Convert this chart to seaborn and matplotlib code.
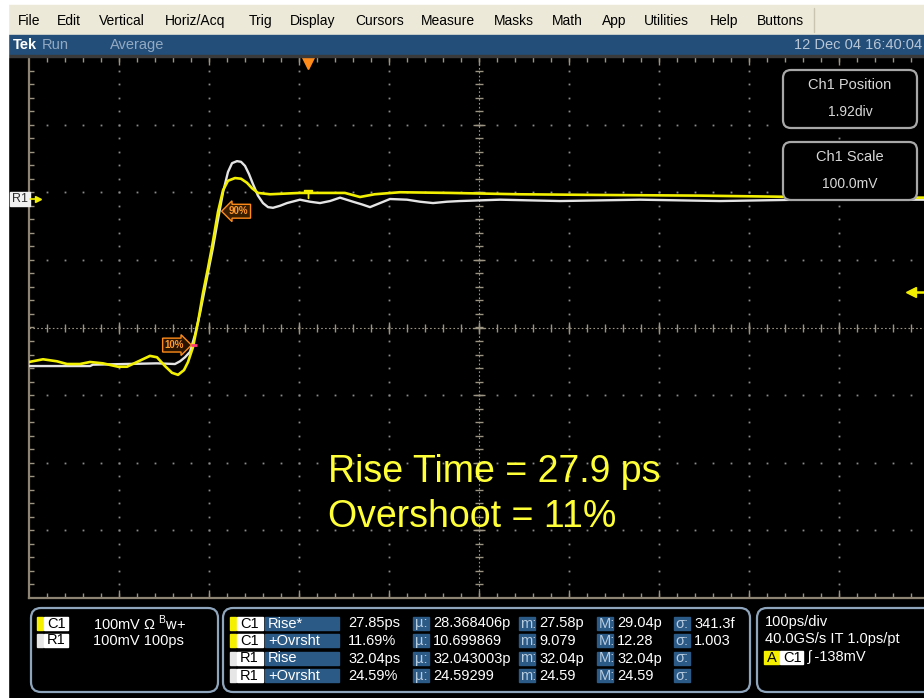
import numpy as np
import pandas as pd
import matplotlib
matplotlib.use("Agg")
import matplotlib.pyplot as plt
import seaborn as sns
from matplotlib.patches import Rectangle, FancyBboxPatch

# --- waveforms: time in ps, level in divisions from centre ---
c1_time = [0, 15.6, 31.1, 42.2, 56.7, 67.8, 82.2, 98.9, 108.9, 120, 134.4, 142.2, 151.1,
           158.9, 165.6, 172.2, 176.7, 182.2, 187.8, 193.3, 198.9, 203.3, 210, 215.6, 221.1,
           228.9, 235.6, 242.2, 247.8, 254.4, 267.8, 301, 334, 351, 367.8, 384, 412, 468,
           545, 634, 745.6, 856.7, 1000]
c1_level = [-0.51, -0.47, -0.50, -0.54, -0.54, -0.51, -0.53, -0.58, -0.58, -0.51, -0.42, -0.44,
            -0.57, -0.67, -0.70, -0.63, -0.51, -0.29, 0.08, 0.51, 0.88, 1.19, 1.71, 2.03, 2.17,
            2.21, 2.20, 2.14, 2.06, 1.99, 1.97, 1.99, 1.99, 1.99, 1.93, 1.97, 2.00, 1.99, 1.97,
            1.96, 1.95, 1.93, 1.92]

r1_time = [0, 67.8, 71, 142.2, 162.2, 167.8, 173.3, 178.9, 184.4, 190, 198.9, 204.4, 208.9,
           215.6, 221.1, 225.6, 231.1, 235.6, 240, 244.4, 248.9, 254.4, 260, 265.6, 271.1,
           278.9, 286.7, 301.1, 312.2, 323.3, 334.4, 345.6, 360, 370, 378.9, 390, 401.1, 420,
           434.4, 448.9, 464.4, 478.9, 523.3, 590, 678.9, 767.8, 856.7, 1000]
r1_level = [-0.57, -0.57, -0.55, -0.53, -0.54, -0.50, -0.44, -0.36, -0.11, 0.21, 0.81, 1.18,
            1.52, 2.00, 2.30, 2.43, 2.46, 2.45, 2.39, 2.27, 2.12, 1.95, 1.84, 1.78, 1.77, 1.80,
            1.84, 1.89, 1.86, 1.84, 1.87, 1.92, 1.86, 1.82, 1.78, 1.84, 1.90, 1.89, 1.86, 1.84,
            1.86, 1.87, 1.89, 1.87, 1.89, 1.87, 1.89, 1.89]

rise_10 = (183, -0.26)       # 10% crossing of C1
rise_90 = (210, 1.74)        # 90% crossing of C1
trigger_time = 310           # ps
trigger_level = 0.52         # div
r1_ref_level = 1.89          # div

# --- screen texts ---
menu_items = ["File", "Edit", "Vertical", "Horiz/Acq", "Trig", "Display", "Cursors",
              "Measure", "Masks", "Math", "App", "Utilities", "Help", "Buttons"]
status_date = "12 Dec 04 16:40:04"
result_lines = ["Rise Time = 27.9 ps", "Overshoot = 11%"]

ch_source = ["C1", "R1"]
ch_setting = ["100mV \u03a9 $^{\\mathregular{B}}$w+", "100mV 100ps"]

meas_src = ["C1", "C1", "R1", "R1"]
meas_name = ["Rise*", "+Ovrsht", "Rise", "+Ovrsht"]
meas_value = ["27.85ps", "11.69%", "32.04ps", "24.59%"]
meas_mean = ["28.368406p", "10.699869", "32.043003p", "24.59299"]
meas_min = ["27.58p", "9.079", "32.04p", "24.59"]
meas_max = ["29.04p", "12.28", "32.04p", "24.59"]
meas_std = ["341.3f", "1.003", "", ""]

horiz_lines = ["100ps/div", "40.0GS/s IT 1.0ps/pt"]
trig_text = "\u0283 -138mV"

# --- colours ---
YEL = "#F2F000"
WHT = "#E4E4E4"
EDGE = "#8E8474"
TICK = "#9C9482"
DOT = "#8A8A8A"
ORANGE = "#FF8C1A"
BLUE = "#2B5A86"
BORDER = "#8FA5BC"
SRC_COL = {"C1": "#F5F000", "R1": "#E6E6E6"}

sns.set_theme(style="white")
plt.rcParams['font.family'] = ['Liberation Sans', 'DejaVu Sans']

W, H = 924, 698
fig = plt.figure(figsize=(W / 100, H / 100), dpi=100, facecolor='black')

# graticule: 10 x 8 div, 90 px x 67.6 px per div, right part cut by the screen edge
ax = fig.add_axes([29 / W, (H - 598) / H, 900 / W, 541 / H])
ax.set_facecolor('black')

r1 = pd.DataFrame({"time": r1_time, "level": r1_level})
c1 = pd.DataFrame({"time": c1_time, "level": c1_level})
sns.lineplot(data=r1, x="time", y="level", ax=ax, color=WHT, lw=1.7, errorbar=None, zorder=4)
sns.lineplot(data=c1, x="time", y="level", ax=ax, color=YEL, lw=1.9, errorbar=None, zorder=5)

ax.set_xlim(0, 1000)
ax.set_ylim(-4, 4)
ax.set_xticks([])
ax.set_yticks([])
ax.set_xlabel("")
ax.set_ylabel("")
for s in ["top", "right"]:
    ax.spines[s].set_visible(False)
for s in ["left", "bottom"]:
    ax.spines[s].set_color(EDGE)
    ax.spines[s].set_linewidth(1.6)

minor_t = np.arange(20, 1000, 20)
minor_v = np.arange(-3.8, 3.9, 0.2)
major_t = np.arange(100, 1000, 100)
major_v = np.arange(-3, 4, 1)

# dotted grid
for t in major_t:
    if t == 500:
        continue
    ax.plot(np.full(len(minor_v), t), minor_v, ls="none", marker="s", ms=1.3, mew=0,
            color=DOT, zorder=1)
for v in major_v:
    if v == 0:
        continue
    ax.plot(minor_t, np.full(len(minor_t), v), ls="none", marker="s", ms=1.3, mew=0,
            color=DOT, zorder=1)

# centre cross with ticks
ax.axhline(0, color=TICK, lw=0.8, ls=(0, (1.5, 2)), zorder=1)
ax.axvline(500, color=TICK, lw=0.8, ls=(0, (1.5, 2)), zorder=1)
ax.plot(minor_t, np.zeros(len(minor_t)), ls="none", marker="|", ms=6, mew=1.0, color=TICK, zorder=1)
ax.plot(major_t, np.zeros(len(major_t)), ls="none", marker="|", ms=9, mew=1.0, color=TICK, zorder=1)
ax.plot(np.full(len(minor_v), 500), minor_v, ls="none", marker="_", ms=6, mew=1.0, color=TICK, zorder=1)
ax.plot(np.full(len(major_v), 500), major_v, ls="none", marker="_", ms=9, mew=1.0, color=TICK, zorder=1)

# edge ticks
ax.plot(np.zeros(len(minor_v)), minor_v, ls="none", marker=1, ms=3.5, mew=1.0, color=TICK, clip_on=False)
ax.plot(minor_t, np.full(len(minor_t), -4), ls="none", marker=2, ms=3.5, mew=1.0, color=TICK, clip_on=False)
ax.plot(major_t, np.full(len(major_t), -4), ls="none", marker=2, ms=5.5, mew=1.0, color=TICK, clip_on=False)
ax.plot(minor_t, np.full(len(minor_t), 4), ls="none", marker=3, ms=3.5, mew=1.0, color=TICK, clip_on=False)
ax.plot(major_t, np.full(len(major_t), 4), ls="none", marker=3, ms=5.5, mew=1.0, color=TICK, clip_on=False)

# trigger position / level markers
ax.plot([trigger_time], [3.92], marker="v", ms=10, color=ORANGE, clip_on=False, zorder=6)
ax.plot([trigger_time], [c1_level[31] - 0.02], marker=r"$\top$", ms=5.5, color=YEL, zorder=6)
ax.plot([980, 1000], [trigger_level, trigger_level], color=YEL, lw=1.8, clip_on=False)
ax.plot([980], [trigger_level], marker="<", ms=7, color=YEL, clip_on=False)

# 10% / 90% measurement labels
lab = dict(fontsize=7, color="#FF9A2E", fontweight="bold", va="center", ha="center",
           textcoords="offset points", zorder=7)
ax.annotate("10%", xy=rise_10, xytext=(-14, 0),
            bbox=dict(boxstyle="rarrow,pad=0.2", fc="#2a1400", ec=ORANGE, lw=1.0), **lab)
ax.annotate("90%", xy=rise_90, xytext=(15, -1),
            bbox=dict(boxstyle="larrow,pad=0.2", fc="#3a1e00", ec=ORANGE, lw=1.0), **lab)
ax.plot([rise_10[0]], [rise_10[1]], marker="_", ms=5, mew=2, color="#FF3C7A", zorder=8)

# --- overlay in pixel coordinates ---
fg = fig.add_axes([0, 0, 1, 1], zorder=5)
fg.set_xlim(0, W)
fg.set_ylim(H, 0)
fg.axis("off")

fg.add_patch(Rectangle((0, 0), W, 5, color="white"))
fg.add_patch(Rectangle((0, 5), W, 30, color="#ECE9D8"))
fg.add_patch(Rectangle((8, 35), W, 20, color="#224E79"))
fg.add_patch(Rectangle((8, 55), W, 2, color="#3A3A3A"))
fg.add_patch(Rectangle((0, 0), 8, H, color="white"))

menu_x = [18, 57, 99, 165, 249, 290, 355, 421, 494, 552, 602, 644, 710, 757]
for name, x in zip(menu_items, menu_x):
    fg.text(x, 21, name, fontsize=10, color="black", va="center", ha="left")
fg.plot([814, 814], [8, 32], color="#C8C4B0", lw=1)

fg.text(13, 45, "Tek", fontsize=10.5, color="white", fontweight="bold", va="center")
fg.text(42, 45, "Run", fontsize=10.5, color="#93A9C2", va="center")
fg.text(110, 45, "Average", fontsize=10.5, color="#93A9C2", va="center")
fg.text(794, 45, status_date, fontsize=10.5, color="#B8C6D6", va="center")

# R1 reference marker on the left edge
fg.add_patch(Rectangle((10, 192), 20, 14, color="#F0F0F0"))
fg.text(20, 199.5, "R1", fontsize=9, color="#303030", ha="center", va="center")
fg.plot([30, 38], [199, 199], color=YEL, lw=1.2)
fg.plot([38], [199], marker=">", ms=4, color=YEL)

# Ch1 position / scale boxes
for (y0, title, val) in [(70, "Ch1 Position", "1.92div"), (142, "Ch1 Scale", "100.0mV")]:
    fg.add_patch(FancyBboxPatch((783, y0), 134, 58, boxstyle="round,pad=0,rounding_size=8",
                                fc="black", ec="#A8A8A8", lw=1.6))
    fg.text(850, y0 + 15, title, fontsize=10.5, color="#D8D8D8", ha="center", va="center")
    fg.text(850, y0 + 42, val, fontsize=10, color="#D8D8D8", ha="center", va="center")

# result text
for i, line in enumerate(result_lines):
    fg.text(328, 482 + 45 * i, line, fontsize=27, color="#FFFF38", va="baseline", ha="left")

# --- bottom readout panel ---
for (x0, w) in [(31, 187), (223, 527), (757, 200)]:
    fg.add_patch(FancyBboxPatch((x0, 608), w, 84, boxstyle="round,pad=0,rounding_size=10",
                                fc="none", ec=BORDER, lw=1.6))


def tag(x, y, w, text, fc, tc, h=13):
    fg.add_patch(Rectangle((x, y - h / 2), w, h, color=fc))
    fg.text(x + 3, y + 0.5, text, fontsize=10.5, color=tc, va="center", ha="left")


for i, (src, setting) in enumerate(zip(ch_source, ch_setting)):
    y = 623 + 17 * i
    fg.add_patch(Rectangle((37, y - 6.5), 6, 13, color=SRC_COL[src]))
    tag(44, y, 24, src, "white", "black")
    fg.text(93, y + 0.5, setting, fontsize=10.5, color="white", va="center")

for i in range(len(meas_src)):
    y = 623 + 17.5 * i
    fg.add_patch(Rectangle((230, y - 6.5), 6, 13, color=SRC_COL[meas_src[i]]))
    tag(237, y, 26, meas_src[i], "white", "black")
    tag(265, y, 74, meas_name[i], BLUE, "white")
    fg.text(348, y + 0.5, meas_value[i], fontsize=10.5, color="white", va="center")
    for (bx, lbl, val) in [(413, "\u00b5:", meas_mean[i]), (519, "m:", meas_min[i]),
                           (597, "M:", meas_max[i]), (674, "\u03c3:", meas_std[i])]:
        tag(bx, y, 16, "", BLUE, "white")
        fg.text(bx + 1.5, y + 0.5, lbl, fontsize=10.5, color="#B8CCE0", va="center")
        fg.text(bx + 20, y + 0.5, val, fontsize=10.5, color="white", va="center")

for i, line in enumerate(horiz_lines):
    fg.text(765, 622 + 17.5 * i, line, fontsize=10.5, color="white", va="center")
tag(764, 657, 15, "A", "#F5F000", "black")
tag(780, 657, 23, "C1", "white", "black")
fg.text(808, 657.5, trig_text, fontsize=10.5, color="white", va="center")

fig.savefig("out.png", dpi=100, facecolor="black")
